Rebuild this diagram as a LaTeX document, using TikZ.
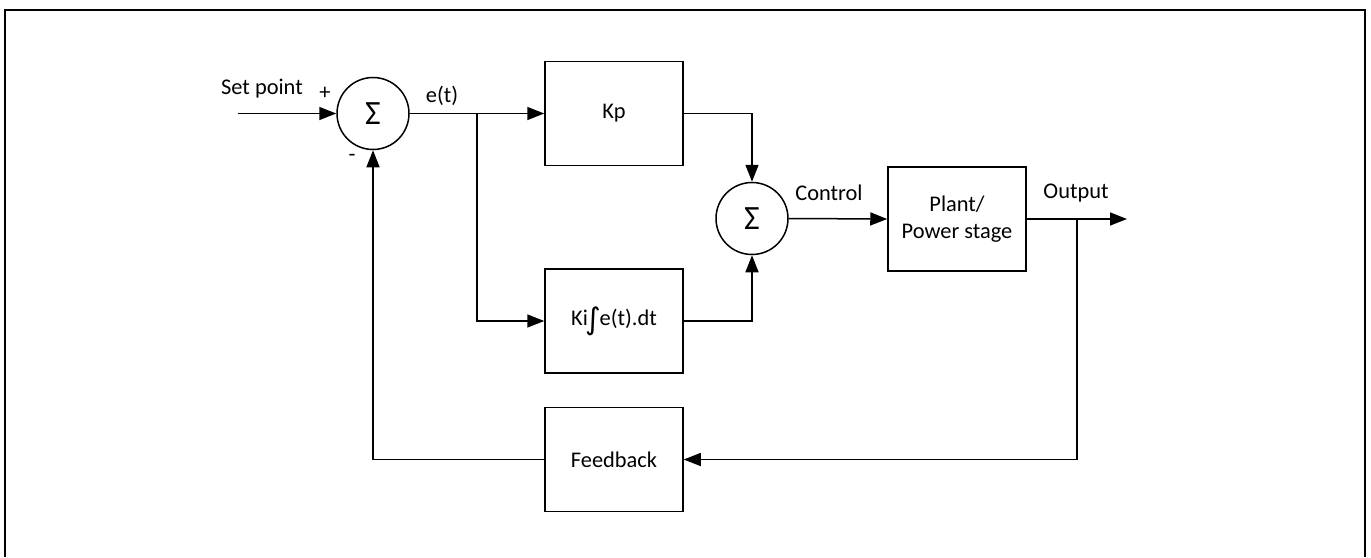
\documentclass[tikz,border=0pt]{standalone}
\usepackage{fontspec}
\setmainfont{Carlito}
\newfontfamily\symfont{DejaVu Sans}
\usetikzlibrary{arrows.meta}
\begin{document}
\begin{tikzpicture}[x=0.5pt,y=-0.5pt,
  font=\fontsize{11.2}{13.5}\selectfont,
  conn/.style={line width=0.75pt},
  arr/.style={conn,-{Triangle[length=8.5pt,width=6.5pt]}},
  blockbox/.style={draw,line width=0.75pt,inner sep=0pt,minimum width=69pt,minimum height=52pt,align=center},
  sumnode/.style={draw,circle,line width=0.75pt,inner sep=0pt,minimum size=36pt,font=\fontsize{17}{17}\selectfont},
  lbl/.style={inner sep=0pt}]
\useasboundingbox (0,0) rectangle (1371,557);
% outer frame
\draw[line width=1pt] (5,557) -- (5,10) -- (1365,10) -- (1365,557);
% nodes
\node[sumnode] (s1) at (373,113.5) {Σ};
\node[blockbox] (kp) at (614,113.5) {Kp};
\node[blockbox] (ki) at (614,321) {Ki\kern-0.12em\raisebox{-0.15em}{\symfont\fontsize{15}{15}\selectfont ∫}\kern-0.05em e(t).dt};
\node[sumnode] (s2) at (752,218.5) {Σ};
\node[blockbox] (pl) at (957,219) {Plant/\\Power stage};
\node[blockbox] (fb) at (614,459.5) {Feedback};
\coordinate (sp) at (238,113.5);
\coordinate (b1) at (477,113.5);
\coordinate (out) at (1127,219);
\coordinate (b2) at (1077,219);
% labels
\node[lbl] (tsp) at (262,89) {Set point};
\node[lbl] (tplus) at (325,93) {+};
\node[lbl] (tminus) at (352,158) {-};
\node[lbl] (tet) at (442,96) {e(t)};
\node[lbl] (tctl) at (829,193) {Control};
\node[lbl] (tout) at (1076,193) {Output};
% connectors
\draw[arr] (sp) -- (s1.west);
\draw[arr] (s1.east) -- (kp.west);
\draw[arr] (b1) |- (ki.west);
\draw[arr] (kp.east) -| (s2.north);
\draw[arr] (ki.east) -| (s2.south);
\draw[arr] (s2.east) -- (pl.west);
\draw[arr] (pl.east) -- (out);
\draw[arr] (b2) |- (fb.east);
\draw[arr] (fb.west) -| (s1.south);
\end{tikzpicture}
\end{document}
